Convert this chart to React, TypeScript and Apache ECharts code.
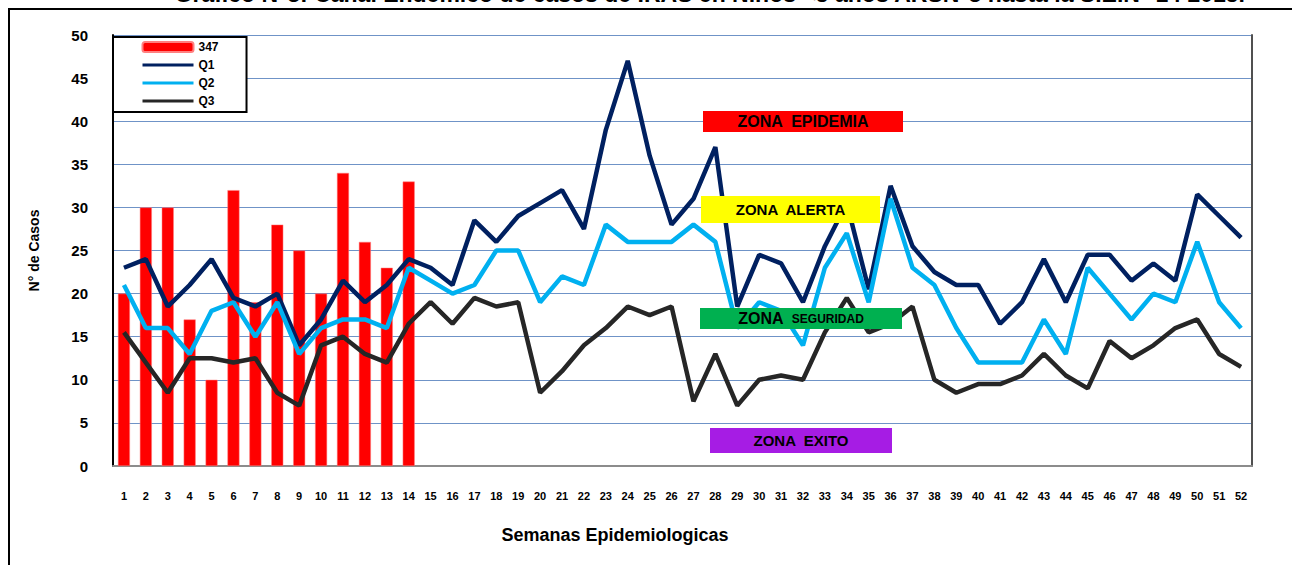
import React, { useEffect, useRef } from "react";
import * as echarts from "echarts";

const weeks = ["1","2","3","4","5","6","7","8","9","10","11","12","13","14","15","16","17","18","19","20","21","22","23","24","25","26","27","28","29","30","31","32","33","34","35","36","37","38","39","40","41","42","43","44","45","46","47","48","49","50","51","52"];
const cases347 = [20, 30, 30, 17, 10, 32, 19, 28, 25, 20, 34, 26, 23, 33];
const q1 = [23, 24, 18.5, 21, 24, 19.5, 18.5, 20, 14, 17, 21.5, 19, 21, 24, 23, 21, 28.5, 26, 29, 30.5, 32, 27.5, 39, 47, 36, 28, 31, 37, 18.5, 24.5, 23.5, 19, 25.5, 30.5, 20.5, 32.5, 25.5, 22.5, 21, 21, 16.5, 19, 24, 19, 24.5, 24.5, 21.5, 23.5, 21.5, 31.5, 29, 26.5];
const q2 = [21, 16, 16, 13, 18, 19, 15, 19, 13, 16, 17, 17, 16, 23, 21.5, 20, 21, 25, 25, 19, 22, 21, 28, 26, 26, 26, 28, 26, 16, 19, 18, 14, 23, 27, 19, 31, 23, 21, 16, 12, 12, 12, 17, 13, 23, 20, 17, 20, 19, 26, 19, 16];
const q3 = [15.5, 12, 8.5, 12.5, 12.5, 12, 12.5, 8.5, 7, 14, 15, 13, 12, 16.5, 19, 16.5, 19.5, 18.5, 19, 8.5, 11, 14, 16, 18.5, 17.5, 18.5, 7.5, 13, 7, 10, 10.5, 10, 15.5, 19.5, 15.5, 16.5, 18.5, 10, 8.5, 9.5, 9.5, 10.5, 13, 10.5, 9, 14.5, 12.5, 14, 16, 17, 13, 11.5];
const seriesNames = ["347", "Q1", "Q2", "Q3"];
const titleText = "Gráfico N°3: Canal Endemico de casos de IRAS en Niños <5 años ARSN°3 hasta la S.E.N° 14 2015.";

const FONT = "'Liberation Sans', Arial, sans-serif";
const NARROW = "'Liberation Sans Narrow', 'Liberation Sans', Arial, sans-serif";

function zone(x: number, y: number, w: number, h: number, fill: string, text: string, size: number, rich?: any) {
  return {
    type: "group",
    z: 100,
    children: [
      { type: "rect", z: 100, shape: { x, y, width: w, height: h }, style: { fill } },
      {
        type: "text",
        z: 101,
        style: {
          x: x + w / 2,
          y: y + h / 2,
          text,
          align: "center",
          verticalAlign: "middle",
          fill: "#000",
          font: "bold " + size + "px " + FONT,
          rich,
        },
      },
    ],
  };
}

export default function App() {
  const ref = useRef<HTMLDivElement>(null);
  useEffect(() => {
    if (!ref.current) return;
    const chart = echarts.init(ref.current, undefined, { renderer: "svg" });
    const lineItem = (name: string) => ({
      name,
      itemStyle: { opacity: 0 },
      lineStyle: { width: 3 },
    });
    chart.setOption({
      animation: false,
      backgroundColor: "#fff",
      grid: { left: 113, right: 40, top: 35, bottom: 99, containLabel: false },
      legend: {
        data: [{ name: seriesNames[0] }, lineItem(seriesNames[1]), lineItem(seriesNames[2]), lineItem(seriesNames[3])],
        orient: "vertical",
        left: 113,
        top: 37,
        itemWidth: 51,
        itemHeight: 10,
        itemGap: 6,
        padding: [4, 28, 5, 28],
        backgroundColor: "#fff",
        borderColor: "#000",
        borderWidth: 2,
        selectedMode: false,
        textStyle: { fontFamily: FONT, fontWeight: "bold", fontSize: 12, color: "#000" },
        z: 50,
      },
      xAxis: {
        type: "category",
        data: weeks,
        boundaryGap: true,
        axisLine: { show: true, lineStyle: { color: "#8c8c8c", width: 2 } },
        axisTick: { show: false },
        axisLabel: { interval: 0, margin: 24, fontFamily: NARROW, fontWeight: "bold", fontSize: 11, color: "#000" },
        splitLine: { show: false },
      },
      yAxis: [
        {
          type: "value",
          min: 0,
          max: 50,
          interval: 5,
          name: "N° de Casos",
          nameLocation: "middle",
          nameGap: 72,
          nameTextStyle: { fontFamily: FONT, fontWeight: "bold", fontSize: 14, color: "#000" },
          axisLine: { show: true, lineStyle: { color: "#000", width: 2 } },
          axisTick: { show: false },
          axisLabel: { margin: 25, fontFamily: FONT, fontWeight: "bold", fontSize: 15, color: "#000" },
          splitLine: { show: true, lineStyle: { color: "#6f93c7", width: 1 } },
        },
        {
          type: "value",
          min: 0,
          max: 50,
          interval: 5,
          position: "right",
          axisLine: { show: true, lineStyle: { color: "#505050", width: 2 } },
          axisTick: { show: false },
          axisLabel: { show: false },
          splitLine: { show: false },
        },
      ],
      series: [
        {
          name: "347",
          type: "bar",
          data: cases347,
          barWidth: 12,
          itemStyle: { color: "#FF0000", borderColor: "#ff8080", borderWidth: 0.5 },
        },
        {
          name: "Q1",
          type: "line",
          data: q1,
          symbol: "none",
          lineStyle: { color: "#002060", width: 4.5 },
          itemStyle: { color: "#002060" },
        },
        {
          name: "Q2",
          type: "line",
          data: q2,
          symbol: "none",
          lineStyle: { color: "#00B0F0", width: 4.5 },
          itemStyle: { color: "#00B0F0" },
        },
        {
          name: "Q3",
          type: "line",
          data: q3,
          symbol: "none",
          lineStyle: { color: "#262626", width: 4.5 },
          itemStyle: { color: "#262626" },
        },
      ],
      graphic: [
        {
          type: "polyline",
          z: 100,
          shape: { points: [[9, 565], [9, 9], [1292, 9]] },
          style: { stroke: "#000", lineWidth: 2, fill: "none" },
        },
        {
          type: "text",
          z: 100,
          style: {
            x: 1245,
            y: -6,
            text: titleText,
            align: "right",
            verticalAlign: "middle",
            fill: "#000",
            font: "bold 23px " + FONT,
          },
        },
        {
          type: "text",
          z: 100,
          style: {
            x: 615,
            y: 535,
            text: "Semanas Epidemiologicas",
            align: "center",
            verticalAlign: "middle",
            fill: "#000",
            font: "bold 18px " + FONT,
          },
        },
        zone(703, 111, 200, 21, "#FF0000", "ZONA  EPIDEMIA", 16),
        zone(701, 196, 179, 27, "#FFFF00", "ZONA  ALERTA", 15),
        zone(700, 308, 202, 21, "#00B050", "{a|ZONA}  {b|SEGURIDAD}", 15, {
          a: { font: "bold 16px " + FONT, fill: "#000" },
          b: { font: "bold 12px " + FONT, fill: "#000" },
        }),
        zone(710, 428, 182, 25, "#A61CE4", "ZONA  EXITO", 15),
      ],
    });
    return () => chart.dispose();
  }, []);
  return (
    <div
      ref={ref}
      style={{ position: "absolute", left: 0, top: 0, width: 1292, height: 565 }}
    />
  );
}
